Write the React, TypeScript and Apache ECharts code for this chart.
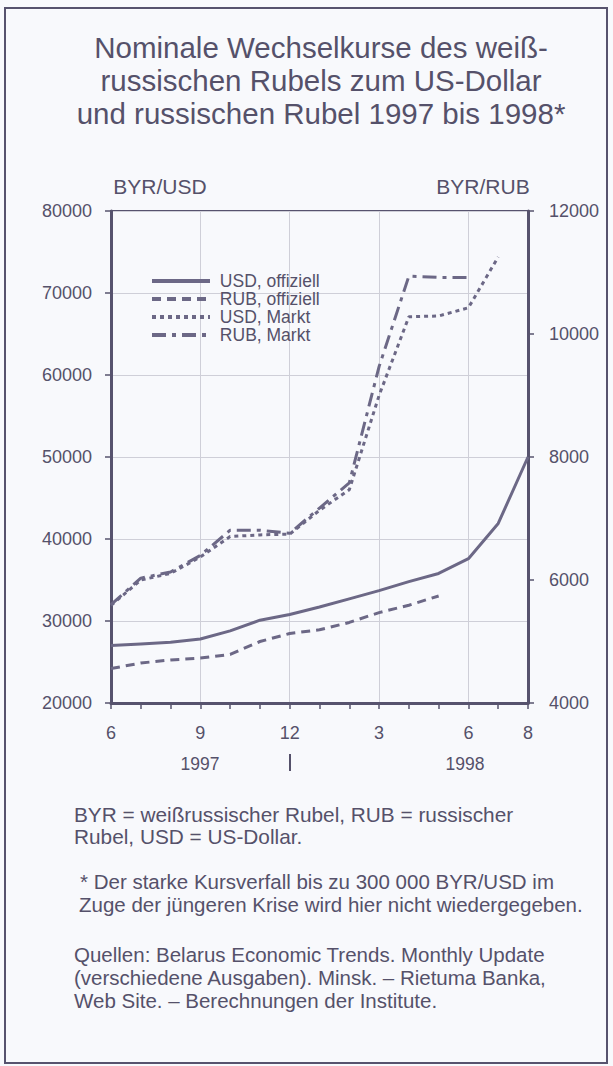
import React, { useEffect, useRef } from 'react';
import * as echarts from 'echarts';

// Months June 1997 .. August 1998
const months = ['6', '7', '8', '9', '10', '11', '12', '1', '2', '3', '4', '5', '6', '7', '8'];
// BYR per USD (left axis)
const usdOfficial = [27000, 27200, 27400, 27800, 28800, 30100, 30800, 31700, 32700, 33700, 34800, 35800, 37600, 41900, 50000];
// BYR per RUB (right axis)
const rubOfficial = [4560, 4650, 4700, 4730, 4790, 5000, 5130, 5190, 5310, 5470, 5590, 5740, null, null, null];
// BYR per USD, market (left axis)
const usdMarket = [31900, 35000, 35800, 37800, 40300, 40500, 40600, 43500, 46000, 57500, 67100, 67200, 68200, 74400, null];
// BYR per RUB, market (right axis)
const rubMarket = [5600, 6030, 6130, 6400, 6810, 6810, 6760, 7170, 7580, 9470, 10940, 10920, 10920, null, null];

const seriesNames = ['USD, offiziell', 'RUB, offiziell', 'USD, Markt', 'RUB, Markt'];
const labelMonthIdx = [0, 3, 6, 9, 12, 14];
const gridMonthIdx = [3, 6, 9, 12];
const yearLabels = ['1997', '1998'];
const axisNames = ['BYR/USD', 'BYR/RUB'];

const titleLines = [
  'Nominale Wechselkurse des weiß-',
  'russischen Rubels zum US-Dollar',
  'und russischen Rubel 1997 bis 1998*',
];
const noteLines = [
  'BYR = weißrussischer Rubel, RUB = russischer',
  'Rubel, USD = US-Dollar.',
];
const starLines = [
  '* Der starke Kursverfall bis zu 300 000 BYR/USD im',
  'Zuge der jüngeren Krise wird hier nicht wiedergegeben.',
];
const sourceLines = [
  'Quellen: Belarus Economic Trends. Monthly Update',
  '(verschiedene Ausgaben). Minsk. – Rietuma Banka,',
  'Web Site. – Berechnungen der Institute.',
];

const FONT = '"Liberation Sans", Arial, Helvetica, sans-serif';
const TEXT = '#55516a';
const LINE = '#6c6886';
const AXIS = '#57536e';
const GRID = '#cfcfd8';
const BG = '#f8f9fc';

function textEl(text: string, x: number, y: number, size: number, align: string) {
  return {
    type: 'text',
    x,
    y,
    silent: true,
    style: {
      text,
      fill: TEXT,
      fontSize: size,
      fontFamily: FONT,
      textAlign: align,
      textVerticalAlign: 'middle',
    },
  };
}

export default function App() {
  const ref = useRef<HTMLDivElement>(null);

  useEffect(() => {
    if (!ref.current) return;
    const chart = echarts.init(ref.current, null, { renderer: 'svg' });

    const graphics: any[] = [];
    graphics.push({
      type: 'rect',
      silent: true,
      shape: { x: 5, y: 8, width: 602, height: 1055 },
      style: { fill: 'none', stroke: AXIS, lineWidth: 2 },
    });
    const titleY = [47, 80, 113];
    titleLines.forEach((t, i) => graphics.push(textEl(t, 321, titleY[i], 29.5, 'center')));
    graphics.push(textEl(axisNames[0], 160, 186, 21, 'center'));
    graphics.push(textEl(axisNames[1], 483, 186, 21, 'center'));
    graphics.push(textEl(yearLabels[0], 200, 764, 17.5, 'center'));
    graphics.push(textEl(yearLabels[1], 465, 764, 17.5, 'center'));
    graphics.push({
      type: 'line',
      silent: true,
      shape: { x1: 290, y1: 754, x2: 290, y2: 771 },
      style: { stroke: TEXT, lineWidth: 2 },
    });
    const noteY = [814, 836];
    noteLines.forEach((t, i) => graphics.push(textEl(t, 74, noteY[i], 20.8, 'left')));
    const starY = [881, 904];
    starLines.forEach((t, i) => graphics.push(textEl(t, i === 0 ? 80 : 79, starY[i], 20.5, 'left')));
    const srcY = [954, 977, 1000];
    sourceLines.forEach((t, i) => graphics.push(textEl(t, 74, srcY[i], 20.5, 'left')));

    const lineSeries = (name: string, data: any[], yAxisIndex: number, type: any) => ({
      name,
      type: 'line',
      data,
      yAxisIndex,
      symbol: 'none',
      showSymbol: false,
      connectNulls: false,
      lineStyle: { color: LINE, width: 3, type },
      itemStyle: { color: LINE },
      emphasis: { disabled: true },
    });

    chart.setOption({
      animation: false,
      backgroundColor: BG,
      textStyle: { fontFamily: FONT },
      grid: {
        left: 111,
        right: 85,
        top: 211,
        bottom: 363,
        show: true,
        borderColor: AXIS,
        borderWidth: 2,
        backgroundColor: 'transparent',
      },
      legend: {
        data: seriesNames,
        orient: 'vertical',
        left: 150,
        top: 272,
        padding: 0,
        itemWidth: 58,
        itemHeight: 10,
        itemGap: 0,
        selectedMode: false,
        formatter: ' {name}',
        itemStyle: { opacity: 0 },
        lineStyle: { width: 4 },
        textStyle: { fontSize: 17.5, color: TEXT, fontFamily: FONT },
      },
      xAxis: {
        type: 'category',
        data: months,
        boundaryGap: false,
        axisLine: { show: true, lineStyle: { color: AXIS, width: 3 } },
        axisTick: { show: true, interval: 0, length: 6, lineStyle: { color: AXIS, width: 1.5 } },
        axisLabel: {
          interval: (i: number) => labelMonthIdx.includes(i),
          margin: 21,
          fontSize: 18,
          color: TEXT,
          fontFamily: FONT,
        },
        splitLine: {
          show: true,
          interval: (i: number) => gridMonthIdx.includes(i),
          lineStyle: { color: GRID, width: 1 },
        },
      },
      yAxis: [
        {
          type: 'value',
          position: 'left',
          min: 20000,
          max: 80000,
          interval: 10000,
          axisLine: { show: true, lineStyle: { color: AXIS, width: 3 } },
          axisTick: { show: true, length: 6, lineStyle: { color: AXIS, width: 1.5 } },
          axisLabel: {
            margin: 19,
            fontSize: 18,
            color: TEXT,
            fontFamily: FONT,
            formatter: (v: number) => String(v),
          },
          splitLine: { show: true, lineStyle: { color: GRID, width: 1 } },
        },
        {
          type: 'value',
          position: 'right',
          min: 4000,
          max: 12000,
          interval: 2000,
          axisLine: { show: true, lineStyle: { color: AXIS, width: 3 } },
          axisTick: { show: true, length: 6, lineStyle: { color: AXIS, width: 1.5 } },
          axisLabel: {
            margin: 21,
            fontSize: 18,
            color: TEXT,
            fontFamily: FONT,
            formatter: (v: number) => String(v),
          },
          splitLine: { show: false },
        },
      ],
      series: [
        lineSeries(seriesNames[0], usdOfficial, 0, 'solid'),
        lineSeries(seriesNames[1], rubOfficial, 1, [9, 6]),
        lineSeries(seriesNames[2], usdMarket, 0, [4, 4]),
        lineSeries(seriesNames[3], rubMarket, 1, [14, 6, 4, 6]),
      ],
      graphic: { elements: graphics },
    });

    return () => chart.dispose();
  }, []);

  return (
    <div
      ref={ref}
      style={{ position: 'absolute', left: 0, top: 0, width: 613, height: 1066 }}
    />
  );
}
